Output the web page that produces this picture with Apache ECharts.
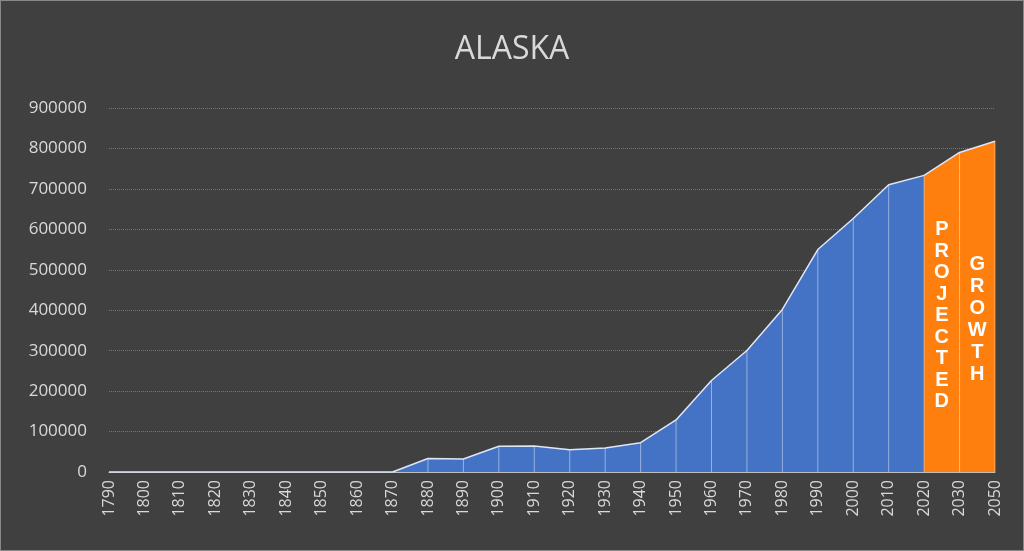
<!DOCTYPE html>
<html><head><meta charset="utf-8">
<script src="https://cdn.jsdelivr.net/npm/echarts@6/dist/echarts.min.js"></script>
<style>html,body{margin:0;background:#404040}#c{width:1024px;height:551px;box-sizing:border-box;border:1px solid #888}</style>
</head><body><div id="c"></div>
<script>
const years = ['1790','1800','1810','1820','1830','1840','1850','1860','1870','1880','1890','1900','1910','1920','1930','1940','1950','1960','1970','1980','1990','2000','2010','2020','2030','2050'];
const historical = [0,0,0,0,0,0,0,0,0,33426,32052,63592,64356,55036,59278,72524,128643,226167,300382,401851,550043,626932,710231,733391,null,null];
const projected = [null,null,null,null,null,null,null,null,null,null,null,null,null,null,null,null,null,null,null,null,null,null,null,733391,790000,818000];
const allVals = historical.map((v,i)=> v!=null ? v : projected[i]);

const chart = echarts.init(document.getElementById('c'));
const lbl = s => s.split('').join('\n');
chart.setOption({
  backgroundColor:'#404040',
  animation:false,
  title:{text:'ALASKA',left:'center',top:28,textStyle:{color:'#d9d9d9',fontSize:32,fontWeight:'normal',fontFamily:'Open Sans'}},
  grid:{left:108,right:28,top:107,bottom:78},
  xAxis:{type:'category',data:years,boundaryGap:false,
    axisLine:{lineStyle:{color:'#bfbfbf'}},axisTick:{show:false},
    axisLabel:{rotate:90,color:'#d9d9d9',fontSize:16,fontFamily:'Open Sans',interval:0}},
  yAxis:{type:'value',min:0,max:900000,interval:100000,
    axisLabel:{color:'#d9d9d9',fontSize:17,fontFamily:'Open Sans',margin:22,formatter:v=>String(v)},
    splitLine:{lineStyle:{color:'#777',type:'dotted'}},axisLine:{show:false}},
  series:[
    {type:'line',data:historical,symbol:'none',lineStyle:{color:'#dfe6f5',width:1.5},areaStyle:{color:'#4472c4',opacity:1}},
    {type:'line',data:projected,symbol:'none',lineStyle:{color:'#dfe6f5',width:1.5},areaStyle:{color:'#ff7f0e',opacity:1}},
    {type:'bar',data:allVals,barWidth:1,barGap:'-100%',itemStyle:{color:'rgba(255,255,255,0.45)'},z:3}
  ]
});
const xa = chart.convertToPixel({xAxisIndex:0},'2020');
const xb = chart.convertToPixel({xAxisIndex:0},'2030');
const xc = chart.convertToPixel({xAxisIndex:0},'2050');
chart.setOption({graphic:[
  {type:'text',x:(xa+xb)/2,y:218,z:10,style:{text:lbl('PROJECTED'),fill:'#fff',font:'bold 20px Liberation Sans',lineHeight:21.5,align:'center'}},
  {type:'text',x:(xb+xc)/2,y:252,z:10,style:{text:lbl('GROWTH'),fill:'#fff',font:'bold 20px Liberation Sans',lineHeight:22,align:'center'}}
]});
</script></body></html>
